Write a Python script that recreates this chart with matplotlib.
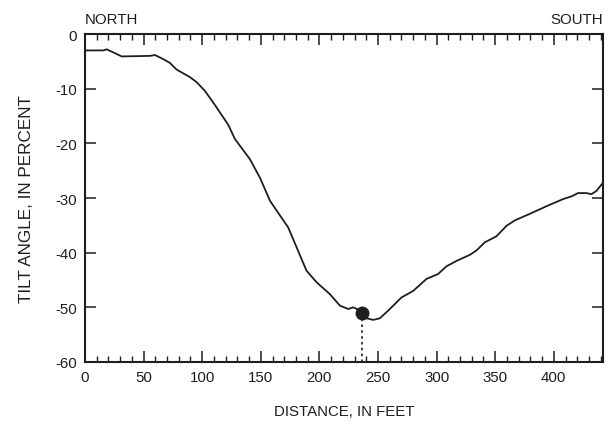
import matplotlib.pyplot as plt
from matplotlib.ticker import MultipleLocator

# tilt profile
distance = [0, 15.6, 18.5, 24, 31.3, 55.4, 59.7, 66.8, 72.5, 78.1, 89.6, 95.2,
            102.3, 110.9, 122.2, 127.9, 140.7, 149.3, 157.8, 163.5, 173.4,
            180.5, 189.0, 197.5, 209, 217.5, 224.6, 228.8, 233, 240.2, 245.9,
            251.6, 258.7, 270.0, 280.0, 291.4, 301.3, 308.4, 317, 328.4, 334,
            341.2, 351.1, 359.6, 366.7, 379.5, 393.8, 407.9, 415.1, 420.7,
            427.8, 432.1, 436.4, 442]
tilt = [-3.0, -3.0, -2.8, -3.35, -4.1, -4.0, -3.85, -4.6, -5.3, -6.5, -7.9, -8.8,
        -10.4, -13.0, -16.6, -19.2, -22.9, -26.3, -30.5, -32.3, -35.4,
        -39.0, -43.3, -45.4, -47.6, -49.7, -50.3, -50.0, -50.4, -52.0, -52.3,
        -52.0, -50.6, -48.2, -47.0, -44.8, -43.9, -42.5, -41.5, -40.4, -39.6,
        -38.1, -37.0, -35.1, -34.1, -32.9, -31.5, -30.2, -29.7, -29.1,
        -29.1, -29.3, -28.7, -27.2]

point_x = 236
point_y = -51.1

plt.rcParams['font.family'] = ['Liberation Sans', 'DejaVu Sans']
plt.rcParams['axes.unicode_minus'] = False
ink = '#1e1e1e'

fig = plt.figure(figsize=(6.13, 4.27), dpi=100)
ax = fig.add_axes([0.1387, 0.1499, 0.9837 - 0.1387, 0.918 - 0.1499])

ax.plot(distance, tilt, color=ink, lw=1.3)
ax.plot([point_x, point_x], [-60, point_y], color=ink, lw=1.2, ls=(0, (1.5, 2)))
ax.plot(point_x, point_y, 'o', color=ink, ms=9)

ax.set_xlim(0, 442)
ax.set_ylim(-60, 0)
ax.set_xticks(range(0, 401, 50))
ax.xaxis.set_minor_locator(MultipleLocator(10))
ax.set_yticks(range(-60, 1, 10))

ax.tick_params(which='both', direction='in', top=True, right=True,
               labelsize=10.8, colors=ink, pad=6)
ax.tick_params(which='major', length=8, width=1.1)
ax.tick_params(which='minor', length=4.5, width=1.0)
for s in ax.spines.values():
    s.set_linewidth(1.5)
    s.set_color(ink)

ax.set_xlabel('DISTANCE, IN FEET', fontsize=10.8, color=ink, labelpad=14)
ax.set_ylabel('TILT ANGLE, IN PERCENT', fontsize=12.3, color=ink, labelpad=15)
ax.text(0, 1.025, 'NORTH', transform=ax.transAxes, ha='left', va='bottom',
        fontsize=10.8, color=ink)
ax.text(1, 1.025, 'SOUTH', transform=ax.transAxes, ha='right', va='bottom',
        fontsize=10.8, color=ink)

plt.savefig('out.png', dpi=100)
